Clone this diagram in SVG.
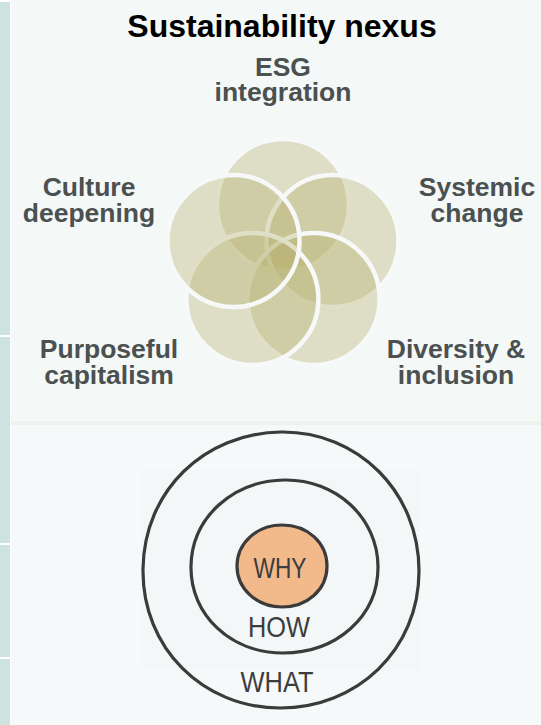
<svg xmlns="http://www.w3.org/2000/svg" width="541" height="725" viewBox="0 0 541 725">
  <style>
    .title { font-family: "Liberation Sans", Arial, sans-serif; font-weight: bold; font-size: 32px; fill: #000; text-anchor: middle; }
    .lbl { font-family: "Liberation Sans", Arial, sans-serif; font-weight: bold; font-size: 26.5px; fill: #4b5050; text-anchor: middle; }
    .petal { fill: #b5b06a; fill-opacity: 0.35; stroke: #f6f9f8; stroke-width: 4.5; }
    .ring { fill: none; stroke: #3b3b3b; stroke-width: 3.2; stroke-linejoin: round; }
    .hand { font-family: "Liberation Sans", Arial, sans-serif; font-size: 30px; fill: #3d3d3d; text-anchor: middle; }
  </style>

  <!-- page background and side rail -->
  <rect x="0" y="0" width="541" height="725" fill="#ffffff"/>
  <rect x="11" y="0" width="530" height="421" fill="#f4f8f7"/>
  <rect x="11" y="421" width="530" height="4" fill="#edf2ef"/>
  <rect x="11" y="425" width="530" height="300" fill="#f5f9f9"/>
  <g id="rail" fill="#cce3df">
    <rect x="0" y="2" width="10" height="333"/>
    <rect x="0" y="337" width="10" height="206"/>
    <rect x="0" y="545" width="10" height="112"/>
    <rect x="0" y="659" width="10" height="66"/>
  </g>

  <text class="title" x="282" y="37">Sustainability nexus</text>

  <!-- five interlocking petals, drawn in stacking order -->
  <g id="esg-integration">
    <circle class="petal" cx="283" cy="205" r="66"/>
    <text class="lbl" x="283" y="76">ESG</text>
    <text class="lbl" x="283" y="101">integration</text>
  </g>
  <g id="systemic-change">
    <circle class="petal" cx="332.5" cy="241" r="66"/>
    <text class="lbl" x="477" y="196">Systemic</text>
    <text class="lbl" x="477" y="222">change</text>
  </g>
  <g id="diversity-inclusion">
    <circle class="petal" cx="313.6" cy="299" r="66"/>
    <text class="lbl" x="456" y="358">Diversity &amp;</text>
    <text class="lbl" x="456" y="384">inclusion</text>
  </g>
  <g id="purposeful-capitalism">
    <circle class="petal" cx="252.4" cy="299" r="66"/>
    <text class="lbl" x="109" y="358">Purposeful</text>
    <text class="lbl" x="109" y="384">capitalism</text>
  </g>
  <g id="culture-deepening">
    <circle class="petal" cx="233.5" cy="241" r="66"/>
    <text class="lbl" x="89" y="196">Culture</text>
    <text class="lbl" x="89" y="222">deepening</text>
  </g>

  <!-- golden circle -->
  <rect x="142" y="470" width="278" height="200" fill="#f3f7f8"/>
  <g id="what">
    <path class="ring" d="M281,432 C358,431 419,492 419,571 C419,650 357,708 280,708 C203,708 142,648 143,569 C144,490 205,433 281,432 Z"/>
    <text class="hand" x="277" y="692" textLength="73" lengthAdjust="spacingAndGlyphs" font-size="33">WHAT</text>
  </g>
  <g id="how">
    <path class="ring" d="M284,480 C336,479 378,518 378,567 C378,617 336,653 283,653 C231,653 190,615 191,566 C192,517 233,481 284,480 Z"/>
    <text class="hand" x="279" y="637" textLength="62" lengthAdjust="spacingAndGlyphs" font-size="31">HOW</text>
  </g>
  <g id="why">
    <path d="M282,525 C308,525 327,543 327,566 C327,590 307,607 282,607 C257,607 237,589 237,566 C237,543 257,525 282,525 Z" fill="#f2b98b" stroke="#3b3b3b" stroke-width="3.2"/>
    <text class="hand" x="280" y="578" textLength="53" lengthAdjust="spacingAndGlyphs" font-size="29">WHY</text>
  </g>
</svg>
